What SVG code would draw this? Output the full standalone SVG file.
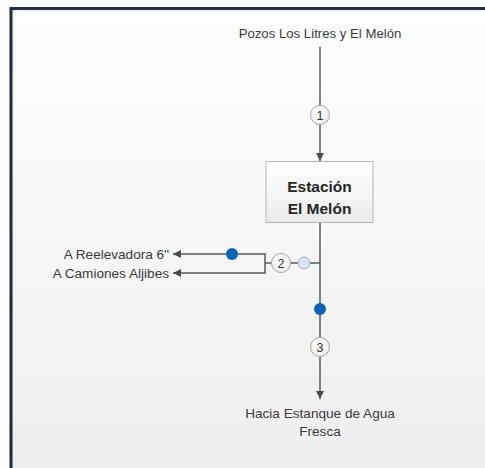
<svg xmlns="http://www.w3.org/2000/svg" width="485" height="468" viewBox="0 0 485 468">
<defs>
<linearGradient id="bg" x1="0" y1="0" x2="0" y2="1">
<stop offset="0" stop-color="#ffffff"/>
<stop offset="1" stop-color="#eeeeee"/>
</linearGradient>
<linearGradient id="boxg" x1="0" y1="0" x2="0" y2="1">
<stop offset="0" stop-color="#ffffff"/>
<stop offset="1" stop-color="#ebebeb"/>
</linearGradient>
<radialGradient id="cg" cx="0.4" cy="0.35" r="0.7">
<stop offset="0" stop-color="#ffffff"/>
<stop offset="1" stop-color="#ececec"/>
</radialGradient>
<marker id="arr" viewBox="0 0 10 10" refX="10" refY="5" markerWidth="8" markerHeight="8" markerUnits="userSpaceOnUse" orient="auto">
<path d="M0,0 L10,5 L0,10 z" fill="#4a4a4a"/>
</marker>
<style>
.t{font-family:"Liberation Sans",Arial,sans-serif;font-size:13.6px;fill:#3a3a3a}
.b{font-family:"Liberation Sans",Arial,sans-serif;font-size:15.5px;font-weight:bold;fill:#262626;text-anchor:middle}
.n{font-family:"Liberation Sans",Arial,sans-serif;font-size:12.5px;fill:#333;text-anchor:middle}
.ln{stroke:#595959;stroke-width:1.5;fill:none}
.num{fill:url(#cg);stroke:#a6a6a6;stroke-width:1}
.dot{fill:#0b63b3}
.lt{fill:#dbe5f1;stroke:#a0a8b3;stroke-width:1}
</style>
</defs>
<rect x="0" y="0" width="485" height="468" fill="#ffffff"/>
<rect x="11" y="8.5" width="474" height="460" fill="url(#bg)"/>
<path d="M11,468 V8.5 H485" fill="none" stroke="#1c2b40" stroke-width="3"/>
<path d="M12.5,468 V10 H485" fill="none" stroke="#7a8a99" stroke-width="0.6" opacity="0.5"/>

<g id="connectors">
<line class="ln" x1="320" y1="47" x2="320" y2="161" marker-end="url(#arr)"/>
<line class="ln" x1="320" y1="223" x2="320" y2="399" marker-end="url(#arr)"/>
<line class="ln" x1="320" y1="263" x2="304" y2="263"/>
<line class="ln" x1="298" y1="263" x2="265" y2="263"/>
<path class="ln" d="M265,254 V273"/>
<line class="ln" x1="265.75" y1="254" x2="173" y2="254" marker-end="url(#arr)"/>
<line class="ln" x1="265.75" y1="273" x2="173" y2="273" marker-end="url(#arr)"/>
</g>

<g id="source"><text class="t" x="320" y="38" text-anchor="middle" style="font-size:13.2px">Pozos Los Litres y El Melón</text></g>
<g id="station">
<rect x="266" y="161.5" width="107" height="61" fill="url(#boxg)" stroke="#b5b5b5" stroke-width="1"/>
<text class="b" x="319.5" y="191.5">Estación</text>
<text class="b" x="319.5" y="214">El Melón</text>
</g>
<g id="p1"><circle class="num" cx="320" cy="115" r="9.5"/><text class="n" x="320" y="119.5">1</text></g>
<g id="p2"><circle class="num" cx="281" cy="263" r="9.5"/><text class="n" x="281" y="267.5">2</text></g>
<g id="p3"><circle class="num" cx="320" cy="347" r="9.5"/><text class="n" x="320" y="351.5">3</text></g>
<g id="valve-light"><circle class="lt" cx="304" cy="263" r="6"/></g>
<g id="valve-upper"><circle class="dot" cx="232" cy="254" r="6"/></g>
<g id="valve-main"><circle class="dot" cx="320" cy="309" r="6"/></g>
<g id="out-reelevadora"><text class="t" x="169" y="258.5" text-anchor="end">A Reelevadora 6"</text></g>
<g id="out-camiones"><text class="t" x="169" y="277.5" text-anchor="end">A Camiones Aljibes</text></g>
<g id="out-estanque">
<text class="t" x="320" y="418" text-anchor="middle">Hacia Estanque de Agua</text>
<text class="t" x="320" y="436" text-anchor="middle">Fresca</text>
</g>
</svg>
